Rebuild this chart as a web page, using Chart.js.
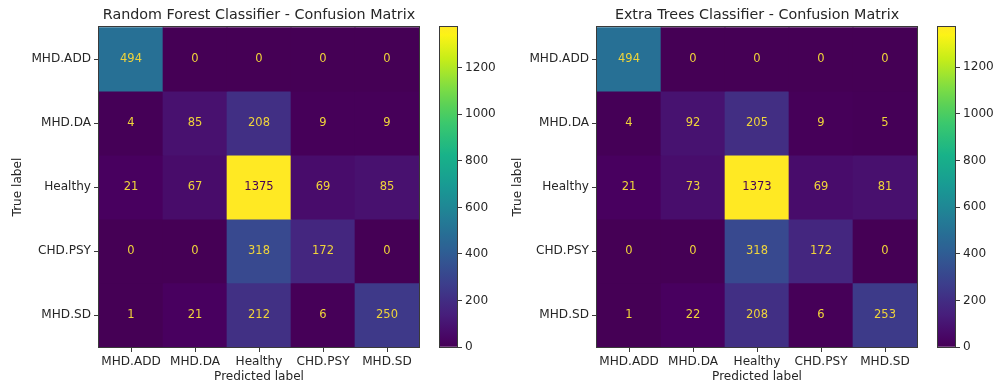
<!DOCTYPE html>
<html lang="en">
<head>
<meta charset="UTF-8">
<title>Confusion Matrices</title>
<script src="https://cdn.jsdelivr.net/npm/chart.js@4.4.0/dist/chart.umd.min.js"></script>
<style>
  body { margin: 0; background: #fff; font-family: 'DejaVu Sans', sans-serif; }
  #wrap { position: relative; width: 994px; height: 385px; overflow: hidden; }
  .box { position: absolute; top: 0; }
  #rfBox { left: 0; }
  #rfBarBox { left: 420px; }
  #etBox { left: 500px; }
  #etBarBox { left: 918px; }
</style>
</head>
<body>
<div id="wrap">
  <div class="box" id="rfBox"><canvas id="rfChart" width="430" height="385"></canvas></div>
  <div class="box" id="rfBarBox"><canvas id="rfBar" width="80" height="385"></canvas></div>
  <div class="box" id="etBox"><canvas id="etChart" width="428" height="385"></canvas></div>
  <div class="box" id="etBarBox"><canvas id="etBar" width="76" height="385"></canvas></div>
</div>
<script>
const classLabels = ['MHD.ADD', 'MHD.DA', 'Healthy', 'CHD.PSY', 'MHD.SD'];

// rows = true label, columns = predicted label
const rfMatrix = [
  [494, 0, 0, 0, 0],
  [4, 85, 208, 9, 9],
  [21, 67, 1375, 69, 85],
  [0, 0, 318, 172, 0],
  [1, 21, 212, 6, 250]
];
const etMatrix = [
  [494, 0, 0, 0, 0],
  [4, 92, 205, 9, 5],
  [21, 73, 1373, 69, 81],
  [0, 0, 318, 172, 0],
  [1, 22, 208, 6, 253]
];
const colorbarTicks = [0, 200, 400, 600, 800, 1000, 1200];

const FONT = "'DejaVu Sans', sans-serif";
const TEXT = '#262626';
const EDGE = '#3a3a3a';
const TICK_SIZE = 12.1;
const SAT_BOOST = 1.15; // reference picture is a little more vivid than plain viridis

// viridis stops
const viridisStops = ['#440154', '#482475', '#414487', '#355f8d', '#2a788e', '#21918c',
                      '#22a884', '#44bf70', '#7ad151', '#bddf26', '#fde725'];
function hexRgb(h) {
  return [parseInt(h.slice(1, 3), 16), parseInt(h.slice(3, 5), 16), parseInt(h.slice(5, 7), 16)];
}
function saturate(rgb) {
  const [r, g, b] = rgb.map(v => v / 255);
  const mid = (Math.max(r, g, b) + Math.min(r, g, b)) / 2;
  // push each channel away from the grey of same lightness
  let k = SAT_BOOST;
  [r, g, b].forEach(v => {
    const d = v - mid;
    if (d > 0) k = Math.min(k, (1 - mid) / d);
    if (d < 0) k = Math.min(k, mid / -d);
  });
  return [r, g, b].map(v => Math.round((mid + (v - mid) * k) * 255));
}
function viridis(t) {
  t = Math.min(1, Math.max(0, t));
  const pos = t * (viridisStops.length - 1);
  const i = Math.min(Math.floor(pos), viridisStops.length - 2);
  const f = pos - i;
  const a = hexRgb(viridisStops[i]), b = hexRgb(viridisStops[i + 1]);
  const c = saturate(a.map((v, k) => v + (b[k] - v) * f));
  return `rgb(${c[0]},${c[1]},${c[2]})`;
}

// outline round the plot area, like matplotlib spines
const frame = {
  id: 'frame',
  afterDatasetsDraw(chart) {
    const { ctx, chartArea: a } = chart;
    ctx.save();
    ctx.strokeStyle = EDGE;
    ctx.lineWidth = 1;
    ctx.strokeRect(Math.round(a.left) - 0.5, Math.round(a.top) - 0.5,
                   Math.round(a.right - a.left) + 1, Math.round(a.bottom - a.top) + 1);
    ctx.restore();
  }
};

// counts written in each cell
const cellLabels = {
  id: 'cellLabels',
  afterDatasetsDraw(chart) {
    const { ctx } = chart;
    const flat = chart.data.datasets.flatMap(d => d.counts);
    const thresh = (Math.max(...flat) + Math.min(...flat)) / 2;
    ctx.save();
    ctx.font = `11.5px ${FONT}`;
    ctx.textAlign = 'center';
    ctx.textBaseline = 'middle';
    chart.data.datasets.forEach((ds, i) => {
      chart.getDatasetMeta(i).data.forEach((el, j) => {
        const p = el.getCenterPoint();
        const v = ds.counts[j];
        ctx.fillStyle = v < thresh ? '#f0d43a' : viridis(0);
        ctx.fillText(String(v), p.x, p.y);
      });
    });
    ctx.restore();
  }
};

function matrixChart(id, title, matrix, yAxisWidth) {
  const maxVal = Math.max(...matrix.flat());
  const datasets = matrix.map((row, r) => ({
    label: classLabels[r],
    data: row.map(() => 1),
    counts: row,
    backgroundColor: row.map(v => viridis(v / maxVal)),
    borderWidth: 0,
    barPercentage: 1,
    categoryPercentage: 1
  }));
  return new Chart(document.getElementById(id), {
    type: 'bar',
    data: { labels: classLabels, datasets },
    options: {
      responsive: false,
      animation: false,
      devicePixelRatio: 1,
      layout: { padding: { left: 0, right: 11, top: 0, bottom: 0 } },
      plugins: {
        legend: { display: false },
        tooltip: { enabled: false },
        title: {
          display: true, text: title, fullSize: false, color: TEXT,
          font: { family: FONT, size: 14.3, weight: 'normal' },
          padding: { top: 7, bottom: 3 }
        }
      },
      scales: {
        x: {
          stacked: true,
          grid: { offset: false, drawOnChartArea: false, tickLength: 5, color: EDGE },
          border: { display: false },
          ticks: { color: TEXT, font: { family: FONT, size: TICK_SIZE }, padding: 3, maxRotation: 0, autoSkip: false },
          title: { display: true, text: 'Predicted label', color: TEXT, font: { family: FONT, size: TICK_SIZE }, padding: { top: 0, bottom: 1 } },
          afterFit: s => { s.height = 38; }
        },
        y: {
          stacked: true,
          reverse: true,
          min: 0,
          max: classLabels.length,
          grid: { drawOnChartArea: false, tickLength: 5, color: EDGE },
          border: { display: false },
          afterBuildTicks: s => { s.ticks = classLabels.map((_, i) => ({ value: i + 0.5 })); },
          ticks: { color: TEXT, font: { family: FONT, size: TICK_SIZE }, padding: 3, callback: (v, i) => classLabels[i] },
          title: { display: true, text: 'True label', color: TEXT, font: { family: FONT, size: TICK_SIZE }, padding: { top: 11, bottom: 0 } },
          afterFit: s => { s.width = yAxisWidth; }
        }
      }
    },
    plugins: [cellLabels, frame]
  });
}

function colorbarChart(id, matrix, axisWidth) {
  const maxVal = Math.max(...matrix.flat());
  return new Chart(document.getElementById(id), {
    type: 'bar',
    data: {
      labels: [''],
      datasets: [{
        data: [[0, maxVal]],
        borderWidth: 0,
        barPercentage: 1,
        categoryPercentage: 1,
        backgroundColor: ctx => {
          const chart = ctx.chart;
          if (!chart.chartArea) return viridis(0);
          const y = chart.scales.y;
          const g = chart.ctx.createLinearGradient(0, y.getPixelForValue(0), 0, y.getPixelForValue(maxVal));
          for (let i = 0; i <= 40; i++) g.addColorStop(i / 40, viridis(i / 40));
          return g;
        }
      }]
    },
    options: {
      responsive: false,
      animation: false,
      devicePixelRatio: 1,
      layout: { padding: { left: 20, right: 0, top: 27, bottom: 38 } },
      plugins: { legend: { display: false }, tooltip: { enabled: false } },
      scales: {
        x: { display: false },
        y: {
          position: 'right',
          min: 0,
          max: maxVal,
          grid: { drawOnChartArea: false, tickLength: 5, color: EDGE },
          border: { display: false },
          afterBuildTicks: s => { s.ticks = colorbarTicks.map(v => ({ value: v })); },
          ticks: { color: TEXT, font: { family: FONT, size: TICK_SIZE }, padding: 3, callback: v => String(v) },
          afterFit: s => { s.width = axisWidth; }
        }
      }
    },
    plugins: [frame]
  });
}

matrixChart('rfChart', 'Random Forest Classifier - Confusion Matrix', rfMatrix, 99);
colorbarChart('rfBar', rfMatrix, 43);
matrixChart('etChart', 'Extra Trees Classifier - Confusion Matrix', etMatrix, 97);
colorbarChart('etBar', etMatrix, 39);
</script>
</body>
</html>
